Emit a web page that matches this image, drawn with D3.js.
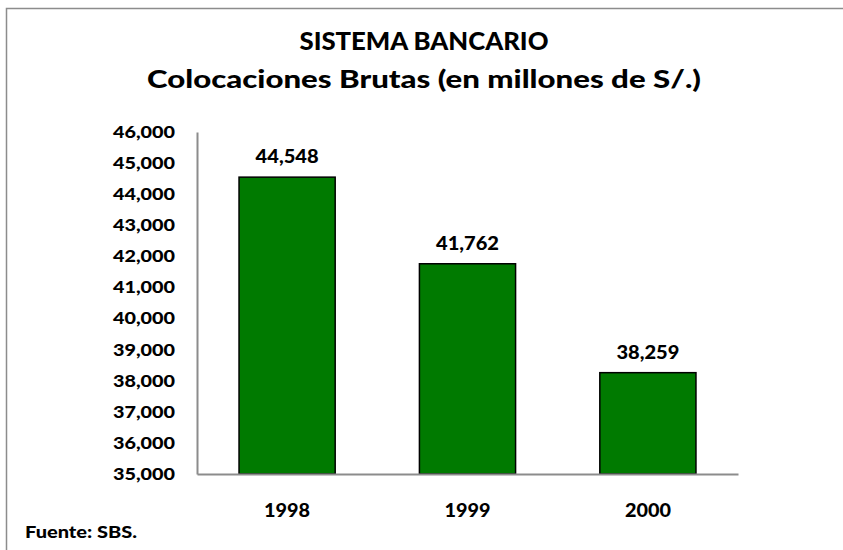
<!DOCTYPE html>
<html>
<head>
<meta charset="utf-8">
<script src="https://cdn.jsdelivr.net/npm/d3@7"></script>
<style>
  html, body { margin: 0; padding: 0; background: #fff; }
  svg { display: block; }
  text { font-family: Lato, "Open Sans", sans-serif; font-weight: 900; fill: #000; }
</style>
</head>
<body>
<div id="chart"></div>
<script>
const titleLines = ["SISTEMA BANCARIO", "Colocaciones Brutas (en millones de S/.)"];
const categories = ["1998", "1999", "2000"];
const values = [44548, 41762, 38259];
const yTicks = [35000, 36000, 37000, 38000, 39000, 40000, 41000, 42000, 43000, 44000, 45000, 46000];
const yDomain = [35000, 46000];
const sourceNote = "Fuente: SBS.";

const W = 843, H = 550;
const plot = { left: 197, right: 738, top: 132, bottom: 474 };
const fmt = d3.format(",");

const svg = d3.select("#chart").append("svg").attr("width", W).attr("height", H);
svg.append("rect").attr("width", W).attr("height", H).attr("fill", "#fff");

// outer chart border (top and left visible)
svg.append("rect")
  .attr("x", 6.5).attr("y", 8.5).attr("width", 900).attr("height", 600)
  .attr("fill", "none").attr("stroke", "#8c8c8c").attr("stroke-width", 1.5);

// title
const titleY = [50, 88];
const titleW = [249, 554];
titleLines.forEach((t, i) => {
  svg.append("text")
    .attr("x", 424).attr("y", titleY[i])
    .attr("text-anchor", "middle")
    .attr("font-size", 25)
    .attr("textLength", titleW[i]).attr("lengthAdjust", "spacingAndGlyphs")
    .text(t);
});

const x = d3.scaleBand().domain(categories).range([plot.left, plot.right])
  .paddingInner(0.467).paddingOuter(0.233);
const y = d3.scaleLinear().domain(yDomain).range([plot.bottom, plot.top]);

// bars
svg.append("g").selectAll("rect").data(values).join("rect")
  .attr("x", (d, i) => x(categories[i]))
  .attr("y", d => y(d))
  .attr("width", x.bandwidth())
  .attr("height", d => y(yDomain[0]) - y(d))
  .attr("fill", "#007a00")
  .attr("stroke", "#000").attr("stroke-width", 1.5);

// axes
const yAxis = d3.axisLeft(y).tickValues(yTicks).tickFormat(fmt).tickSize(0).tickPadding(22);
const gy = svg.append("g").attr("transform", `translate(${plot.left},0)`).call(yAxis);
gy.select(".domain").attr("stroke", "#8c8c8c").attr("stroke-width", 2);
gy.selectAll("text").attr("font-size", 17).attr("font-family", "Lato, sans-serif")
  .attr("font-weight", 900).attr("fill", "#000")
  .attr("textLength", 62).attr("lengthAdjust", "spacingAndGlyphs");

const xAxis = d3.axisBottom(x).tickSize(0).tickPadding(30);
const gx = svg.append("g").attr("transform", `translate(0,${plot.bottom})`).call(xAxis);
gx.select(".domain").attr("stroke", "#8c8c8c").attr("stroke-width", 2);
gx.selectAll("text").attr("font-size", 18).attr("font-family", "Lato, sans-serif")
  .attr("font-weight", 900).attr("fill", "#000")
  .attr("textLength", 46).attr("lengthAdjust", "spacingAndGlyphs");

// value labels
svg.append("g").selectAll("text").data(values).join("text")
  .attr("x", (d, i) => x(categories[i]) + x.bandwidth() / 2)
  .attr("y", d => y(d) - 14)
  .attr("text-anchor", "middle")
  .attr("font-size", 18)
  .attr("textLength", 63).attr("lengthAdjust", "spacingAndGlyphs")
  .text(d => fmt(d));

// source note
svg.append("text")
  .attr("x", 25).attr("y", 538)
  .attr("font-size", 16)
  .attr("textLength", 112).attr("lengthAdjust", "spacingAndGlyphs")
  .text(sourceNote);
</script>
</body>
</html>
